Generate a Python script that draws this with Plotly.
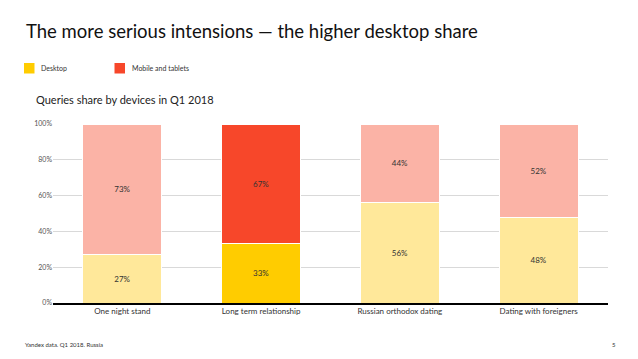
import plotly.graph_objects as go

categories = ["One night stand", "Long term relationship", "Russian orthodox dating", "Dating with foreigners"]
desktop = [27, 33, 56, 48]
mobile = [73, 67, 44, 52]
tick_vals = [0, 20, 40, 60, 80, 100]
tick_text = ["0%", "20%", "40%", "60%", "80%", "100%"]

desk_colors = ["#FFE89A", "#FFCC00", "#FFE89A", "#FFE89A"]
mob_colors = ["#FBB3A6", "#F7472A", "#FBB3A6", "#FBB3A6"]

FONT = "Lato"
W, H = 638, 359
ML, MR, MT, MB = 53, 30, 124, 56

fig = go.Figure()
fig.add_trace(go.Bar(x=categories, y=desktop, marker=dict(color=desk_colors, line=dict(color="white", width=1)),
                     text=[f"{v}%" for v in desktop], textposition="inside", insidetextanchor="middle",
                     textfont=dict(size=8, color="#333333", family=FONT), name="Desktop", showlegend=False))
fig.add_trace(go.Bar(x=categories, y=mobile, marker=dict(color=mob_colors, line=dict(color="white", width=1)),
                     text=[f"{v}%" for v in mobile], textposition="inside", insidetextanchor="middle",
                     textfont=dict(size=8, color="#333333", family=FONT), name="Mobile and tablets", showlegend=False))

fig.update_layout(
    barmode="stack", bargap=0.43,
    width=W, height=H,
    margin=dict(l=ML, r=MR, t=MT, b=MB),
    paper_bgcolor="white", plot_bgcolor="white",
    font=dict(family=FONT, color="#333333"),
    uniformtext=dict(minsize=7, mode="show"),
)
fig.update_yaxes(range=[0, 100], tickvals=tick_vals, ticktext=tick_text, showgrid=True,
                 gridcolor="#D9D9D9", gridwidth=1, zeroline=False, showline=False,
                 tickfont=dict(size=7, color="#555555", family=FONT), ticks="", ticklen=0)
fig.update_xaxes(showline=True, linecolor="black", linewidth=1.5, ticks="",
                 tickfont=dict(size=8, color="#333333", family=FONT))


def px_x(x):
    return (x - ML) / (W - ML - MR)


def px_y(y):
    return (H - MB - y) / (H - MT - MB)


anns = [
    dict(text="The more serious intensions — the higher desktop share", x=24, y=31, font=dict(size=18.5, color="#111111")),
    dict(text="Desktop", x=39, y=68, font=dict(size=7, color="#333333")),
    dict(text="Mobile and tablets", x=130, y=68, font=dict(size=7, color="#333333")),
    dict(text="Queries share by devices in Q1 2018", x=34, y=100, font=dict(size=11, color="#222222")),
    dict(text="Yandex data. Q1 2018. Russia", x=23, y=344, font=dict(size=6, color="#333333")),
    dict(text="5", x=610, y=344, font=dict(size=6, color="#333333")),
]
for a in anns:
    fig.add_annotation(text=a["text"], xref="paper", yref="paper",
                       x=px_x(a["x"]), y=px_y(a["y"]),
                       xanchor="left", yanchor="middle", showarrow=False,
                       font=dict(family=FONT, **a["font"]))

fig.add_shape(type="rect", xref="paper", yref="paper", x0=px_x(24), x1=px_x(34.5), y0=px_y(73.5), y1=px_y(63),
              fillcolor="#FFCC00", line=dict(width=0))
fig.add_shape(type="rect", xref="paper", yref="paper", x0=px_x(114.5), x1=px_x(125), y0=px_y(73.5), y1=px_y(63),
              fillcolor="#F7472A", line=dict(width=0))

fig.write_html("out.html", config={"displayModeBar": False},
               post_script="document.body.style.margin='0';document.body.style.padding='0';")
